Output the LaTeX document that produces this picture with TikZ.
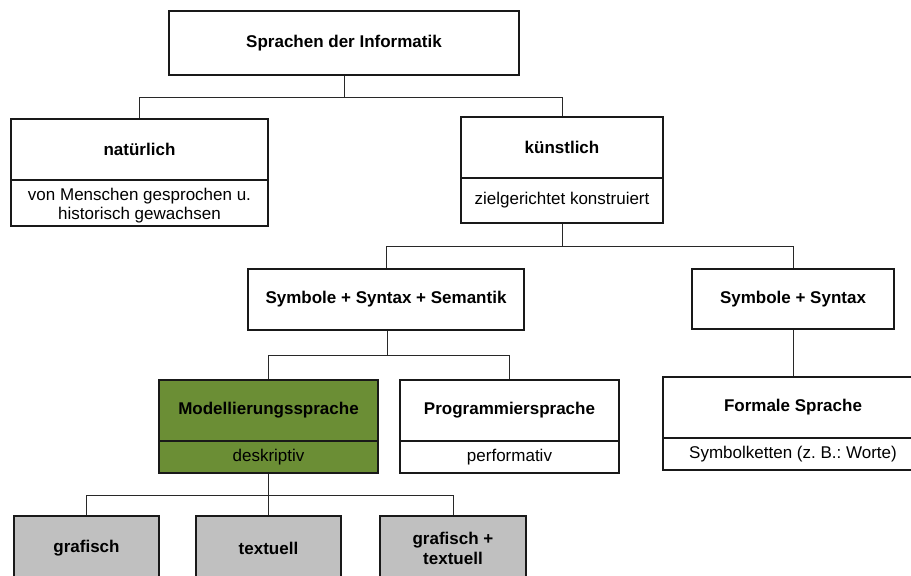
\documentclass[tikz,border=0pt]{standalone}
\usepackage{fontspec}
\setmainfont{Liberation Sans}
\frenchspacing
\definecolor{olive}{RGB}{107,142,53}
\definecolor{lightgrey}{RGB}{192,192,192}
\definecolor{linegrey}{RGB}{40,40,40}
\tikzset{
  box/.style={draw=black!90, line width=1.3pt, rectangle, inner sep=0pt,
    align=center, font=\fontsize{17}{20}\selectfont},
  head/.style={box, font=\fontsize{17}{20}\selectfont\bfseries},
  sub/.style={box, font=\fontsize{17}{19}\selectfont},
  caption/.style={inner sep=0pt, align=center, font=\fontsize{17}{19}\selectfont},
  link/.style={draw=linegrey, line width=1pt},
}
\begin{document}
\begin{tikzpicture}[x=1pt,y=-1pt]
\useasboundingbox (0,0) rectangle (911,576);
\clip (0,0) rectangle (911,576);

% root
\node[head, minimum width=350pt, minimum height=64pt] (root) at (344,43) {Sprachen der Informatik};

% natural languages
\node[head, minimum width=257pt, minimum height=61pt] (natT) at (139.5,149.5) {natürlich};
\node[sub, minimum width=257pt, minimum height=46pt] (natS) at (139.5,203) {};
\node[caption] (natC) at ([yshift=-2.5pt]natS.center) {von Menschen gesprochen u.\\historisch gewachsen};

% artificial languages
\node[head, minimum width=202pt, minimum height=61pt] (kunT) at (562,147.5) {künstlich};
\node[sub, minimum width=202pt, minimum height=45pt] (kunS) at (562,200.5) {zielgerichtet konstruiert};

% second level
\node[head, minimum width=276pt, minimum height=61pt] (sem) at (386,299.5) {Symbole + Syntax + Semantik};
\node[head, minimum width=202pt, minimum height=60pt] (syn) at (793,299) {Symbole + Syntax};

% third level
\node[head, fill=olive, minimum width=219pt, minimum height=61pt] (modT) at (268.5,410.5) {Modellierungssprache};
\node[sub, fill=olive, minimum width=219pt, minimum height=32pt] (modS) at (268.5,457) {deskriptiv};
\node[head, minimum width=219pt, minimum height=61pt] (progT) at (509.5,410.5) {Programmiersprache};
\node[sub, minimum width=219pt, minimum height=32pt] (progS) at (509.5,457) {performativ};
\node[head, minimum width=260pt, minimum height=61pt] (formT) at (793,407.5) {Formale Sprache};
\node[sub, minimum width=260pt, minimum height=32pt] (formS) at (793,454) {Symbolketten (z. B.: Worte)};

% kinds of modelling languages
\node[head, fill=lightgrey, minimum width=145pt, minimum height=64pt] (graf) at (86.5,548) {grafisch};
\node[head, fill=lightgrey, minimum width=145pt, minimum height=64pt] (text) at (268.5,548) {textuell};
\node[head, fill=lightgrey, minimum width=146pt, minimum height=64pt] (both) at (453,548) {grafisch +\\textuell};

% junctions
\coordinate (j1) at (344,97);
\coordinate (j2) at (562,246);
\coordinate (j3) at (387,355);
\coordinate (j4) at (268.5,495);

% connectors
\draw[link] (root.south) -- (j1);
\draw[link] (j1) -| (natT.north);
\draw[link] (j1) -| (kunT.north);
\draw[link] (kunS.south) -- (j2);
\draw[link] (j2) -| (sem.north);
\draw[link] (j2) -| (syn.north);
\draw[link] (sem.south -| j3) -- (j3);
\draw[link] (j3) -| (modT.north);
\draw[link] (j3) -| (progT.north);
\draw[link] (syn.south) -- (formT.north);
\draw[link] (modS.south) -- (j4);
\draw[link] (j4) -| (graf.north);
\draw[link] (j4) -- (text.north);
\draw[link] (j4) -| (both.north);
\end{tikzpicture}
\end{document}
